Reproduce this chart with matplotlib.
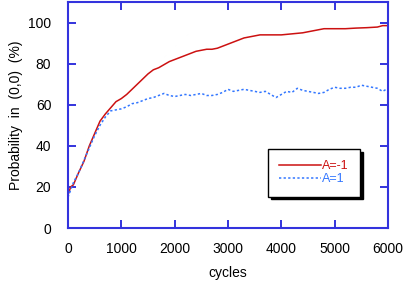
import matplotlib
matplotlib.use("Agg")
import matplotlib.pyplot as plt
import numpy as np

plt.rcParams['font.family'] = ['Liberation Sans', 'DejaVu Sans']

# A=-1 (red)
cyc_red = [0, 50, 100, 200, 300, 400, 500, 600, 700, 800, 900, 1000, 1100, 1200,
           1300, 1400, 1500, 1600, 1700, 1800, 1900, 2000, 2100, 2200, 2300, 2400,
           2500, 2600, 2700, 2800, 2900, 3000, 3100, 3200, 3300, 3400, 3500, 3600,
           3700, 3800, 4000, 4200, 4400, 4500, 4600, 4700, 4800, 5000, 5200, 5400,
           5600, 5800, 5900, 6000]
p_red = [16, 20, 21, 27, 32.5, 40, 46, 52, 55.5, 58.5, 61.5, 63, 65, 67.5,
         70, 72.5, 75, 77, 78, 79.5, 81, 82, 83, 84, 85, 86,
         86.5, 87, 87, 87.5, 88.5, 89.5, 90.5, 91.5, 92.5, 93, 93.5, 94,
         94, 94, 94, 94.5, 95, 95.5, 96, 96.5, 97, 97, 97, 97.3,
         97.5, 97.8, 98.5, 98.5]

# A=1 (blue)
cyc_blue = list(range(0, 6100, 100))
p_blue = [15, 22, 27, 33, 39, 45, 50, 54, 57, 57.5, 58, 59, 60.5, 61, 62, 63,
          63.5, 64.5, 65.5, 64.5, 64, 64.5, 65, 64.5, 65, 65.5, 64.5, 64.5, 65,
          66, 67.5, 66.5, 67, 67.5, 67, 66.5, 66, 66.5, 65, 63.5, 65, 66.5, 66,
          68, 67, 66.5, 66, 65.5, 66, 67.5, 68.5, 68, 68, 68.5, 68.5, 69.5, 69,
          68.5, 68, 66.5, 68]

axcol = '#3333dd'

fig = plt.figure(figsize=(4.09, 2.84), dpi=100)
ax = fig.add_axes([68/409, 56/284, 320/409, 226/284])

ax.plot(cyc_red, p_red, color='#cc1111', lw=1.1, label='A=-1')
ax.plot(cyc_blue, p_blue, color='#3377ff', lw=1.1, ls=(0, (1.5, 1.5)), label='A=1')

ax.set_xlim(0, 6000)
ax.set_ylim(0, 110)
ax.set_xticks(np.arange(0, 6001, 1000))
ax.set_yticks(np.arange(0, 101, 20))
for s in ax.spines.values():
    s.set_color(axcol)
    s.set_linewidth(1.5)
ax.tick_params(direction='in', length=6, width=1.4, color=axcol,
               top=True, right=True, labelsize=10)
ax.tick_params(axis='x', pad=10)
ax.tick_params(axis='y', pad=12)

ax.set_xlabel('cycles', fontsize=10, labelpad=7)
ax.set_ylabel('Probability  in  (0,0)  (%)', fontsize=10, labelpad=4)

leg = ax.legend(loc='upper left', bbox_to_anchor=(0.625, 0.35), borderaxespad=0,
                fancybox=False, edgecolor='black', framealpha=1,
                shadow={'color': 'black', 'alpha': 1}, fontsize=9,
                handlelength=3.3, handletextpad=0.15, labelspacing=0.1,
                borderpad=0.9, labelcolor='linecolor')
leg.get_frame().set_linewidth(1.0)

fig.savefig('out.png', dpi=100)
